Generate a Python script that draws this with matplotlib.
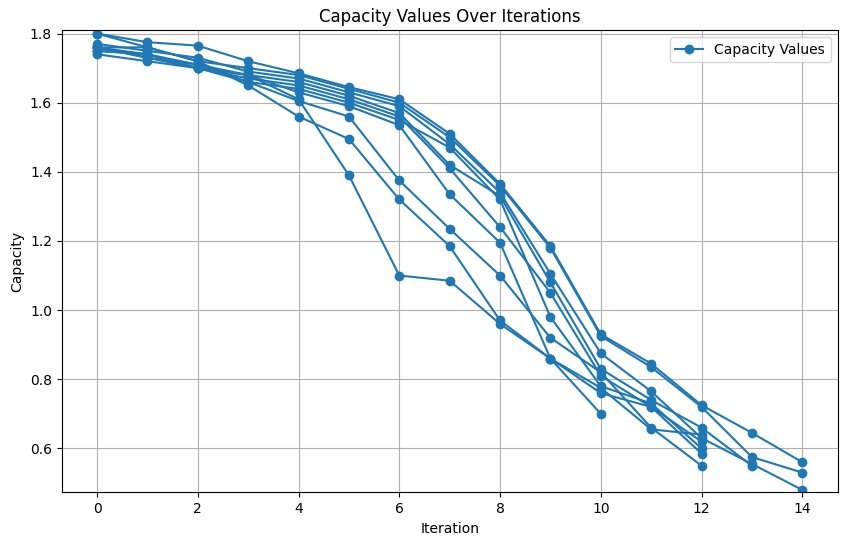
import matplotlib
matplotlib.use("Agg")
import matplotlib.pyplot as plt

iterations = list(range(15))
series = [
    [1.80,1.775,1.765,1.72,1.685,1.645,1.61,1.51,1.365,1.185,0.93,0.845,0.725,0.645,0.56],
    [1.76,1.76,1.72,1.70,1.68,1.64,1.60,1.50,1.36,1.18,0.925,0.835,0.72,0.575,0.53],
    [1.77,1.75,1.73,1.69,1.67,1.63,1.59,1.48,1.34,1.105,0.875,0.765,0.63,0.555,0.48],
    [1.76,1.74,1.71,1.68,1.66,1.62,1.57,1.42,1.33,1.08,0.83,0.74,0.66,0.55],
    [1.74,1.72,1.70,1.67,1.65,1.61,1.56,1.41,1.24,1.05,0.81,0.72,0.62],
    [1.76,1.73,1.70,1.66,1.64,1.60,1.55,1.47,1.32,0.98,0.78,0.73,0.60],
    [1.75,1.74,1.70,1.68,1.63,1.59,1.535,1.335,1.195,0.86,0.76,0.72,0.585],
    [1.76,1.73,1.71,1.66,1.605,1.56,1.375,1.235,1.10,0.92,0.82,0.66,0.55],
    [1.80,1.76,1.72,1.65,1.56,1.495,1.32,1.185,0.97,0.86,0.775,0.655,0.64],
    [1.75,1.74,1.70,1.68,1.61,1.39,1.10,1.085,0.96,0.86,0.70],
]

fig, ax = plt.subplots(figsize=(8.46, 5.47), dpi=100)
for i, s in enumerate(series):
    ax.plot(iterations[:len(s)], s, marker='o', color='#1f77b4',
            label='Capacity Values' if i == 0 else None)
ax.set_title('Capacity Values Over Iterations')
ax.set_xlabel('Iteration')
ax.set_ylabel('Capacity')
ax.set_ylim(0.473, 1.81)
ax.grid(True)
ax.legend(loc='upper right')
fig.subplots_adjust(left=0.073, right=0.99, top=0.945, bottom=0.1)
fig.savefig('out.png', dpi=100)
